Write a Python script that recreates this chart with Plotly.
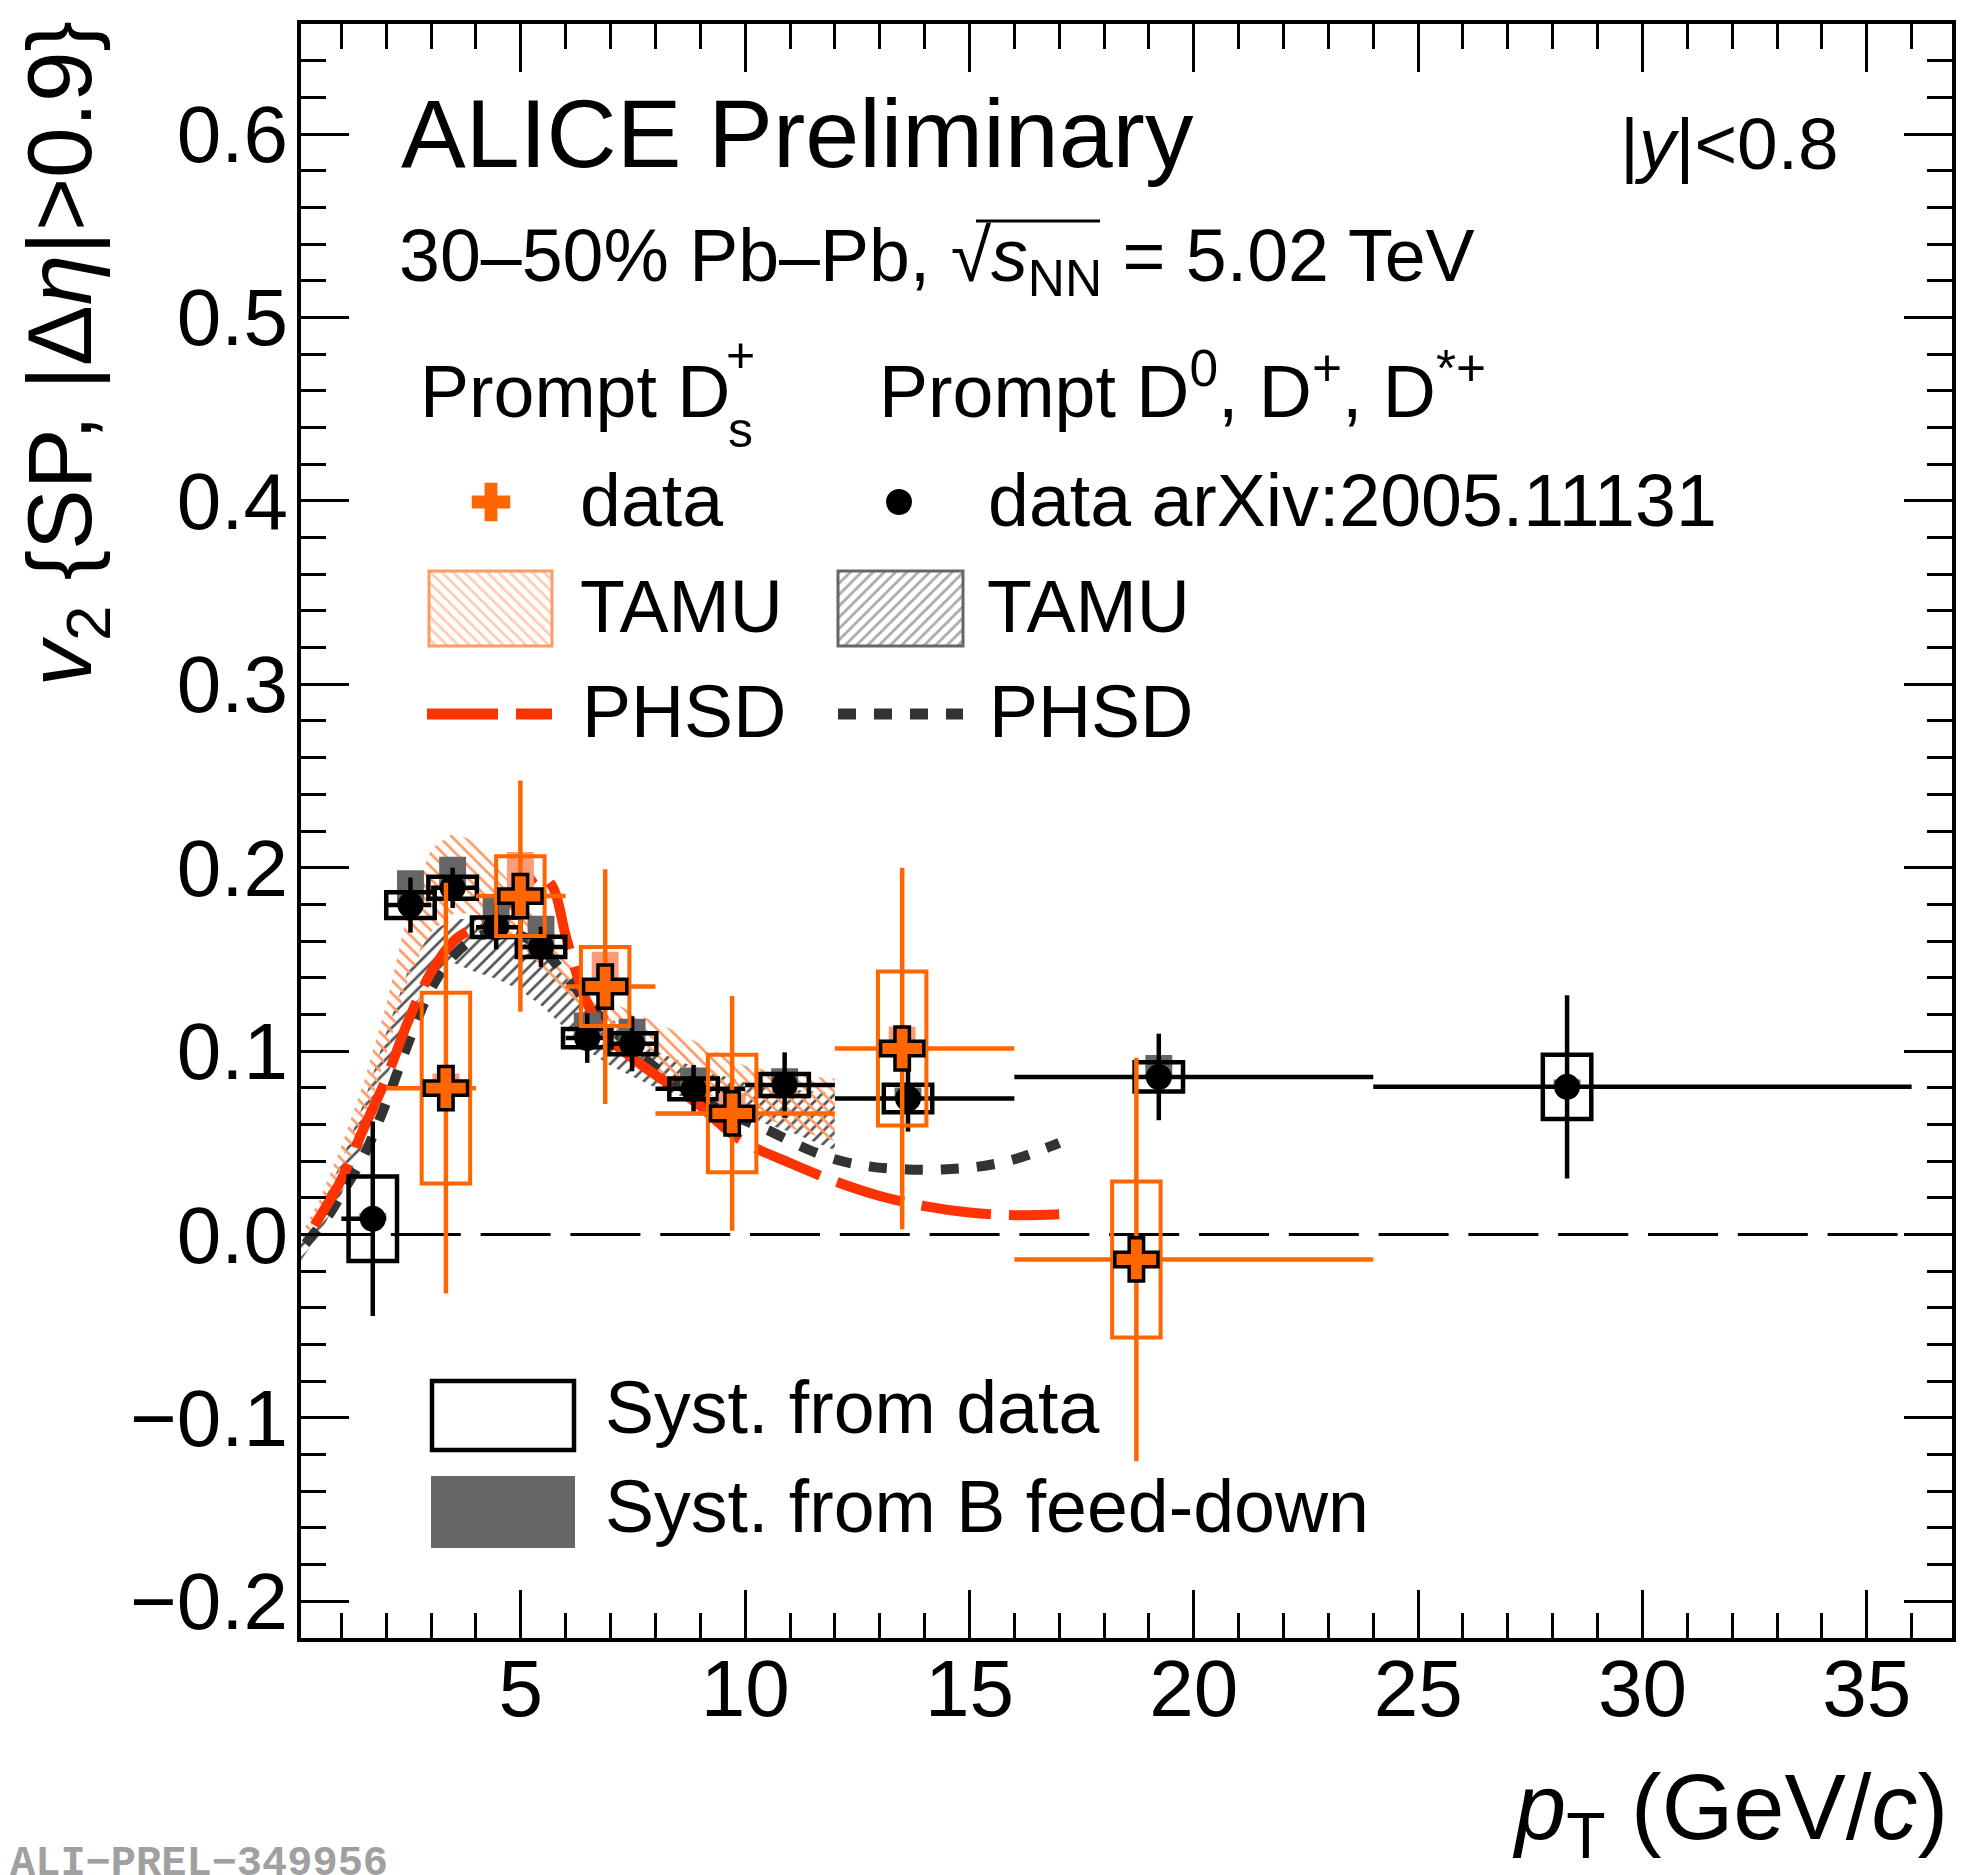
import plotly.graph_objects as go

# ---------------- data ----------------
# Prompt D0, D+, D*+ (arXiv:2005.11131)
d_x = [1.70, 2.54, 3.48, 4.45, 5.45, 6.48, 7.48, 8.85, 10.88, 13.63, 19.22, 28.32]
d_lo = [1, 2, 3, 4, 5, 6, 7, 8, 10, 12, 16, 24]
d_hi = [2, 3, 4, 5, 6, 7, 8, 10, 12, 16, 24, 36]
d_y = [0.0086, 0.1796, 0.1890, 0.1675, 0.1568, 0.1071, 0.1040, 0.0794, 0.0815, 0.0741, 0.0859, 0.0805]
d_stat = [0.053, 0.015, 0.011, 0.012, 0.011, 0.0135, 0.015, 0.013, 0.0178, 0.018, 0.0236, 0.050]
d_syst = [0.023, 0.007, 0.006, 0.0053, 0.0055, 0.005, 0.0057, 0.0057, 0.006, 0.0075, 0.008, 0.0175]
d_fd = [0.003, 0.019, 0.017, 0.016, 0.017, 0.014, 0.0136, 0.0116, 0.0092, 0.006, 0.012, 0.004]

# Prompt Ds+
ds_x = [3.33, 4.99, 6.88, 9.71, 13.50, 18.72]
ds_lo = [2, 4, 6, 8, 12, 16]
ds_hi = [4, 6, 8, 12, 16, 24]
ds_y = [0.0798, 0.1845, 0.1352, 0.0660, 0.1014, -0.0136]
ds_stat = [0.112, 0.063, 0.064, 0.064, 0.0985, 0.110]
ds_syst = [0.052, 0.0217, 0.0215, 0.032, 0.042, 0.0425]
ds_fd = [0.008, 0.024, 0.019, 0.011, 0.012, 0.003]

# TAMU bands
tamu_x = [0.1, 0.5, 1.0, 1.5, 2.0, 2.5, 3.0, 3.5, 4.0, 4.5, 5.0, 5.5, 6.0, 6.5, 7.0, 7.5, 8.0, 9.0, 10.0, 11.0, 12.0]
tamu_ds_up = [0.000, 0.018, 0.048, 0.083, 0.125, 0.178, 0.210, 0.219, 0.214, 0.199, 0.186, 0.168, 0.150, 0.136, 0.127, 0.121, 0.116, 0.104, 0.092, 0.087, 0.085]
tamu_ds_lo = [-0.004, 0.008, 0.030, 0.060, 0.098, 0.140, 0.165, 0.175, 0.175, 0.168, 0.158, 0.145, 0.130, 0.117, 0.105, 0.097, 0.090, 0.078, 0.068, 0.058, 0.051]
tamu_d_up = [-0.004, 0.012, 0.040, 0.072, 0.110, 0.145, 0.165, 0.172, 0.172, 0.168, 0.160, 0.152, 0.141, 0.129, 0.118, 0.108, 0.100, 0.090, 0.083, 0.079, 0.077]
tamu_d_lo = [-0.014, 0.000, 0.022, 0.050, 0.085, 0.118, 0.140, 0.148, 0.143, 0.139, 0.133, 0.124, 0.112, 0.100, 0.092, 0.086, 0.080, 0.072, 0.064, 0.056, 0.046]

# PHSD curves
phsd_ds_x = [0.4, 1.0, 1.5, 2.0, 2.5, 3.0, 3.5, 4.0, 4.5, 5.0, 5.4, 5.7, 6.0, 6.3, 6.6, 7.0, 7.5, 8.0, 8.5, 9.0, 9.5, 10.0, 11.0, 12.0, 13.0, 14.0, 15.0, 16.0, 17.0]
phsd_ds_y = [0.005, 0.030, 0.058, 0.085, 0.117, 0.143, 0.160, 0.168, 0.176, 0.187, 0.196, 0.190, 0.163, 0.138, 0.120, 0.106, 0.096, 0.087, 0.079, 0.070, 0.059, 0.050, 0.039, 0.029, 0.021, 0.0155, 0.012, 0.0105, 0.011]
phsd_d_x = [0.2, 0.7, 1.0, 1.5, 2.0, 2.5, 3.0, 3.5, 4.0, 4.5, 5.0, 5.5, 6.0, 6.5, 7.0, 8.0, 9.0, 10.0, 10.5, 11.25, 12.0, 12.8, 13.6, 14.4, 15.2, 16.0, 16.8, 17.0]
phsd_d_y = [-0.005, 0.010, 0.022, 0.043, 0.072, 0.105, 0.134, 0.152, 0.162, 0.165, 0.163, 0.155, 0.141, 0.126, 0.113, 0.091, 0.074, 0.062, 0.057, 0.048, 0.041, 0.037, 0.0355, 0.0355, 0.037, 0.041, 0.048, 0.050]

x_ticks = [5, 10, 15, 20, 25, 30, 35]
y_ticks = [-0.2, -0.1, 0.0, 0.1, 0.2, 0.3, 0.4, 0.5, 0.6]

# ---------------- style ----------------
W, H = 1968, 1875
L, R, T, B = 301, 1952, 24, 1638
FONT = "Liberation Sans, Arial, sans-serif"
ORANGE = "#FF6600"
RED = "#FF3300"
HATCH_OR = "#FF9966"
HATCH_GR = "#555555"
FD_OR = "#FB9C78"
FD_GR = "#666666"
PHSD_GR = "#333333"
SYS_HW = 0.54
FD_HW = 0.30
LEG = 73.5


def px(x):
    return (x - L) / (R - L)


def py(y):
    return (B - y) / (B - T)


fig = go.Figure()


def band(xs, up, lo, color, shape):
    fig.add_trace(go.Scatter(
        x=list(xs) + list(xs)[::-1], y=list(up) + list(lo)[::-1],
        mode="lines", line=dict(width=0, color=color), fill="toself",
        fillcolor=color,
        fillpattern=dict(shape=shape, size=9, solidity=0.3, fgcolor=color,
                         bgcolor="rgba(0,0,0,0)", fillmode="replace"),
        hoverinfo="skip", showlegend=False))


def rect(x0, x1, y0, y1, line_color=None, line_width=0, fill=None,
         xa="x", ya="y", pattern=None):
    xc = 0.5 * (x0 + x1)
    kw = {}
    if pattern is not None:
        kw["fillpattern"] = pattern
    fig.add_trace(go.Scatter(
        x=[xc, x1, x1, x0, x0, xc], y=[y0, y0, y1, y1, y0, y0],
        mode="lines",
        line=dict(color=line_color or "rgba(0,0,0,0)", width=line_width),
        fill="toself" if fill else "none", fillcolor=fill,
        xaxis=xa, yaxis=ya, hoverinfo="skip", showlegend=False, **kw))


# model bands
band(tamu_x, tamu_d_up, tamu_d_lo, HATCH_GR, "/")
band(tamu_x, tamu_ds_up, tamu_ds_lo, HATCH_OR, "\\")

# model curves
fig.add_trace(go.Scatter(x=phsd_d_x, y=phsd_d_y, mode="lines",
                         line=dict(color=PHSD_GR, width=10, dash="18px,18px", shape="spline"),
                         hoverinfo="skip", showlegend=False))
fig.add_trace(go.Scatter(x=phsd_ds_x, y=phsd_ds_y, mode="lines",
                         line=dict(color=RED, width=10, dash="70px,18px", shape="spline"),
                         hoverinfo="skip", showlegend=False))

# D-meson boxes
for x, y, fd in zip(d_x, d_y, d_fd):
    rect(x - FD_HW, x + FD_HW, y, y + fd, fill=FD_GR)
for x, y, s in zip(d_x, d_y, d_syst):
    rect(x - SYS_HW, x + SYS_HW, y - s, y + s, line_color="black", line_width=4.5)

fig.add_trace(go.Scatter(
    x=d_x, y=d_y, mode="markers",
    marker=dict(symbol="circle", size=26, color="black"),
    error_y=dict(type="data", array=d_stat, color="black", thickness=4.5, width=0),
    error_x=dict(type="data", symmetric=False,
                 array=[h - x for h, x in zip(d_hi, d_x)],
                 arrayminus=[x - l for l, x in zip(d_lo, d_x)],
                 color="black", thickness=4.5, width=0),
    hoverinfo="skip", showlegend=False))

# Ds boxes
for x, y, fd in zip(ds_x, ds_y, ds_fd):
    rect(x - FD_HW, x + FD_HW, y, y + fd, fill=FD_OR)
for x, y, s in zip(ds_x, ds_y, ds_syst):
    rect(x - SYS_HW, x + SYS_HW, y - s, y + s, line_color=ORANGE, line_width=4)

fig.add_trace(go.Scatter(
    x=ds_x, y=ds_y, mode="markers",
    marker=dict(symbol="cross", size=36, color=ORANGE, line=dict(color="black", width=3.5)),
    error_y=dict(type="data", array=ds_stat, color=ORANGE, thickness=4.5, width=0),
    error_x=dict(type="data", symmetric=False,
                 array=[h - x for h, x in zip(ds_hi, ds_x)],
                 arrayminus=[x - l for l, x in zip(ds_lo, ds_x)],
                 color=ORANGE, thickness=4.5, width=0),
    hoverinfo="skip", showlegend=False))

# ---------------- legend glyphs (pixel axes) ----------------
fig.add_trace(go.Scatter(x=[491], y=[502], mode="markers", xaxis="x2", yaxis="y2",
                         marker=dict(symbol="cross", size=32, color=ORANGE, line=dict(width=0)),
                         hoverinfo="skip", showlegend=False))
fig.add_trace(go.Scatter(x=[899], y=[502], mode="markers", xaxis="x2", yaxis="y2",
                         marker=dict(symbol="circle", size=26, color="black"),
                         hoverinfo="skip", showlegend=False))
rect(429, 552, 571, 646, line_color=HATCH_OR, line_width=3, fill=HATCH_OR, xa="x2", ya="y2",
     pattern=dict(shape="\\", size=8, solidity=0.35, fgcolor=HATCH_OR, bgcolor="rgba(0,0,0,0)"))
rect(838, 963, 571, 646, line_color=FD_GR, line_width=3, fill=HATCH_GR, xa="x2", ya="y2",
     pattern=dict(shape="/", size=8, solidity=0.35, fgcolor=HATCH_GR, bgcolor="rgba(0,0,0,0)"))
fig.add_trace(go.Scatter(x=[427, 552], y=[714, 714], mode="lines", xaxis="x2", yaxis="y2",
                         line=dict(color=RED, width=11, dash="71px,18px"),
                         hoverinfo="skip", showlegend=False))
fig.add_trace(go.Scatter(x=[838, 963], y=[714, 714], mode="lines", xaxis="x2", yaxis="y2",
                         line=dict(color=PHSD_GR, width=11, dash="18px,18px"),
                         hoverinfo="skip", showlegend=False))
rect(432, 574, 1381, 1450, line_color="black", line_width=4.5, xa="x2", ya="y2")
rect(431, 575, 1476, 1548, fill=FD_GR, xa="x2", ya="y2")

# ---------------- texts ----------------
ann = []


def text(s, x, base, size, anchor="left", color="black", family=FONT):
    ann.append(dict(text=s, x=px(x), y=py(base - 0.3465 * size), xref="paper", yref="paper",
                    xanchor=anchor, yanchor="middle", showarrow=False,
                    font=dict(family=family, size=size, color=color)))


text("ALICE Preliminary", 399, 167, 97)
text("|<i>y</i>|&lt;0.8", 1618, 169, 73)
text("30–50% Pb–Pb, √<i>s</i><sub>NN</sub> = 5.02 TeV", 397, 286, 73.5)
text("Prompt D", 418, 416.7, LEG)
text("s", 726, 447, 50)
text("+", 724, 372, 50)
text("Prompt D<sup>0</sup>, D<sup>+</sup>, D<sup>*+</sup>", 877, 411, LEG)
text("data", 578, 526, LEG)
text("data arXiv:2005.11131", 986, 526, LEG)
text("TAMU", 578, 631.7, LEG)
text("TAMU", 985, 631.7, LEG)
text("PHSD", 580, 736.7, LEG)
text("PHSD", 987, 736.7, LEG)
text("Syst. from data", 603, 1433.3, LEG)
text("Syst. from B feed-down", 603, 1531.7, LEG)
text("<i>p</i><sub>T</sub> (GeV/<i>c</i>)", 1950, 1846, 92, anchor="right")
text("<b>ALI−PREL−349956</b>", 8, 1879, 42, color="#a0a0a0",
     family="Liberation Mono, Courier New, monospace")
ann.append(dict(text="<i>v</i><sub>2</sub> {SP, |Δ<i>η</i>|&gt;0.9}", x=px(66), y=py(20),
                xref="paper", yref="paper", xanchor="center", yanchor="top",
                textangle=-90, showarrow=False,
                font=dict(family=FONT, size=91, color="black")))

axis_common = dict(showline=True, linewidth=4, linecolor="black", mirror="ticks",
                   ticks="inside", ticklen=48, tickwidth=2.5, tickcolor="black",
                   showgrid=False, zeroline=False,
                   tickfont=dict(family=FONT, size=80, color="black"))

fig.update_layout(
    width=W, height=H,
    margin=dict(l=L, r=W - R, t=T, b=H - B, pad=0),
    paper_bgcolor="white", plot_bgcolor="white",
    showlegend=False,
    xaxis=dict(range=[0.1, 36.9], tickmode="array", tickvals=x_ticks,
               ticktext=[str(v) for v in x_ticks], ticklabelstandoff=-22,
               minor=dict(ticks="inside", ticklen=25, dtick=1, tick0=0, tickwidth=2.5,
                          tickcolor="black"),
               **axis_common),
    yaxis=dict(range=[-0.22, 0.66], tickmode="array", tickvals=y_ticks,
               ticktext=[f"{v:.1f}".replace("-", "−") for v in y_ticks], ticklabelstandoff=-7,
               minor=dict(ticks="inside", ticklen=25, dtick=0.02, tick0=0, tickwidth=2.5,
                          tickcolor="black"),
               **axis_common),
    xaxis2=dict(overlaying="x", anchor="y2", range=[L, R], visible=False),
    yaxis2=dict(overlaying="y", anchor="x2", range=[B, T], visible=False),
    annotations=ann,
    shapes=[
        dict(type="line", xref="paper", yref="y", x0=0, x1=1, y0=0, y1=0,
             line=dict(color="black", width=3, dash="70px,19.8px"), layer="below"),
        # overline of the square root
        dict(type="line", xref="paper", yref="paper", x0=px(976), x1=px(1100),
             y0=py(221), y1=py(221), line=dict(color="black", width=3)),
    ],
)

fig.write_html("out.html")
